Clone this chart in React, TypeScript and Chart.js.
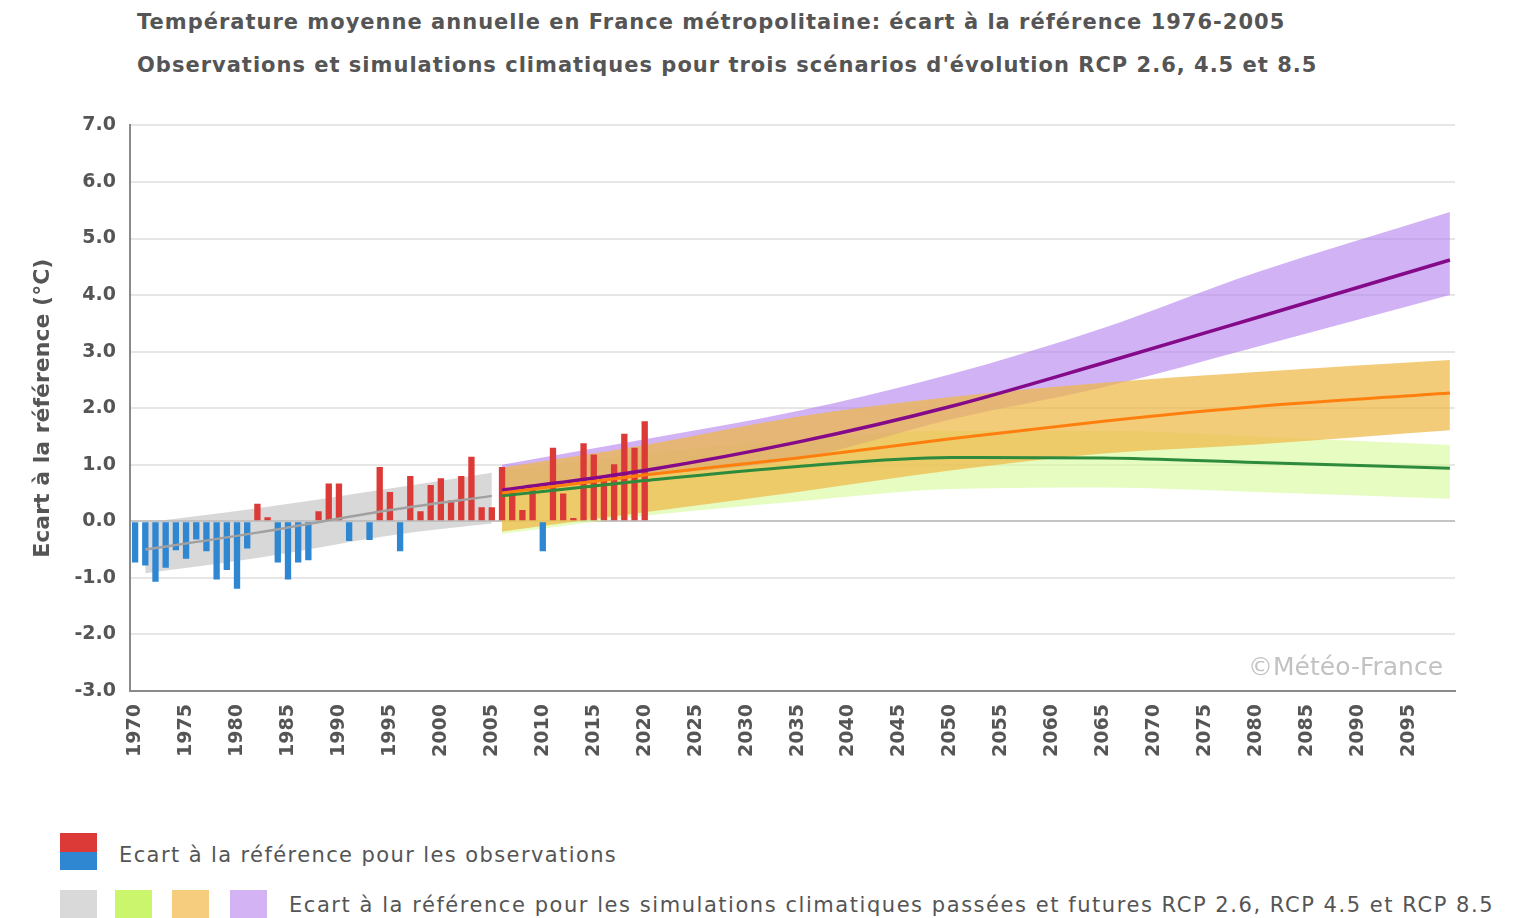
import React, { useEffect, useRef } from "react";
import { Chart, registerables } from "chart.js";

Chart.register(...registerables);

// ---------- data ----------
const FIRST_YEAR = 1970;
const LAST_YEAR = 2099;

// observed anomalies 1970..2020 (°C vs 1976-2005)
const obsValues = [
  -0.73, -0.78, -1.07, -0.82, -0.51, -0.66, -0.32, -0.53, -1.03, -0.86,
  -1.19, -0.48, 0.31, 0.07, -0.73, -1.03, -0.73, -0.69, 0.18, 0.67,
  0.67, -0.35, 0.02, -0.33, 0.96, 0.52, -0.53, 0.80, 0.18, 0.64,
  0.76, 0.37, 0.80, 1.14, 0.25, 0.25, 0.96, 0.55, 0.20, 0.58,
  -0.53, 1.30, 0.49, 0.06, 1.38, 1.18, 0.73, 1.01, 1.55, 1.30,
  1.77,
];

// past simulations (grey)
const histYears = [1971, 1982, 1995, 2005];
const histLow = [-0.92, -0.65, -0.25, -0.04];
const histHigh = [-0.02, 0.23, 0.58, 0.86];
const histMid = [-0.5, -0.2, 0.2, 0.45];

// future scenarios
const scenYears = [2006, 2020, 2035, 2050, 2065, 2080, 2099];
const rcp26Low = [-0.22, 0.1, 0.35, 0.57, 0.6, 0.52, 0.4];
const rcp26High = [0.9, 1.2, 1.45, 1.6, 1.6, 1.5, 1.35];
const rcp26Mid = [0.45, 0.72, 0.97, 1.13, 1.12, 1.04, 0.94];
const rcp45Low = [-0.18, 0.16, 0.52, 0.9, 1.2, 1.36, 1.61];
const rcp45High = [0.95, 1.35, 1.85, 2.2, 2.45, 2.64, 2.85];
const rcp45Mid = [0.5, 0.82, 1.12, 1.46, 1.77, 2.03, 2.27];
const rcp85Low = [0.5, 0.8, 1.1, 1.8, 2.37, 3.08, 4.0];
const rcp85High = [1.0, 1.45, 1.95, 2.6, 3.42, 4.4, 5.47];
const rcp85Mid = [0.55, 0.9, 1.4, 2.03, 2.8, 3.6, 4.62];

const TITLE1 =
  "Température moyenne annuelle en France métropolitaine: écart à la référence 1976-2005";
const TITLE2 =
  "Observations et simulations climatiques pour trois scénarios d'évolution RCP 2.6, 4.5 et 8.5";
const Y_TITLE = "Ecart à la référence (°C)";
const LEGEND1 = "Ecart à la référence pour les observations";
const LEGEND2 =
  "Ecart à la référence pour les simulations climatiques passées et futures RCP 2.6, RCP 4.5 et RCP 8.5";
const WATERMARK = "©Météo-France";

// ---------- colors ----------
const RED = "#dc3a36";
const BLUE = "#2f86d1";
const GREY_BAND = "rgba(190,190,190,0.6)";
const GREEN_BAND = "rgba(214,250,150,0.6)";
const ORANGE_BAND = "rgba(238,185,70,0.72)";
const PURPLE_BAND = "rgba(178,128,238,0.6)";
const GREY_LINE = "#a0a0a0";
const GREEN_LINE = "#2e8b3e";
const ORANGE_LINE = "#ff7f0e";
const PURPLE_LINE = "#850a8a";

const FONT = "'DejaVu Sans', sans-serif";
const TEXT = "#555555";

const labels: string[] = [];
for (let y = FIRST_YEAR; y <= LAST_YEAR; y++) labels.push(String(y));

const pts = (years: number[], vals: number[]) =>
  years.map((yr, i) => ({ x: String(yr), y: vals[i] }));

const bandLow = (years: number[], vals: number[], order: number) => ({
  type: "line" as const,
  data: pts(years, vals),
  borderWidth: 0,
  pointRadius: 0,
  fill: false,
  tension: 0.4,
  cubicInterpolationMode: "monotone" as const,
  order,
});
const bandHigh = (years: number[], vals: number[], color: string, order: number) => ({
  type: "line" as const,
  data: pts(years, vals),
  borderWidth: 0,
  pointRadius: 0,
  backgroundColor: color,
  fill: "-1",
  tension: 0.4,
  cubicInterpolationMode: "monotone" as const,
  order,
});
const midLine = (years: number[], vals: number[], color: string, width: number) => ({
  type: "line" as const,
  data: pts(years, vals),
  borderColor: color,
  borderWidth: width,
  pointRadius: 0,
  fill: false,
  tension: 0.4,
  cubicInterpolationMode: "monotone" as const,
  order: 0,
});

export default function App() {
  const canvasRef = useRef<HTMLCanvasElement | null>(null);

  useEffect(() => {
    if (!canvasRef.current) return;
    const chart = new Chart(canvasRef.current, {
      type: "bar",
      data: {
        labels,
        datasets: [
          bandLow(histYears, histLow, 6),
          bandHigh(histYears, histHigh, GREY_BAND, 6),
          bandLow(scenYears, rcp26Low, 5),
          bandHigh(scenYears, rcp26High, GREEN_BAND, 5),
          bandLow(scenYears, rcp85Low, 4),
          bandHigh(scenYears, rcp85High, PURPLE_BAND, 4),
          bandLow(scenYears, rcp45Low, 3),
          bandHigh(scenYears, rcp45High, ORANGE_BAND, 3),
          {
            type: "bar" as const,
            data: obsValues,
            backgroundColor: obsValues.map((v) => (v >= 0 ? RED : BLUE)),
            barPercentage: 0.62,
            categoryPercentage: 1,
            order: 1,
          },
          midLine(histYears, histMid, GREY_LINE, 2.5),
          midLine(scenYears, rcp26Mid, GREEN_LINE, 3),
          midLine(scenYears, rcp45Mid, ORANGE_LINE, 3),
          midLine(scenYears, rcp85Mid, PURPLE_LINE, 3.5),
        ] as any,
      },
      options: {
        animation: false,
        responsive: false,
        maintainAspectRatio: false,
        layout: { padding: { left: 0, right: 66, top: 25, bottom: 29 } },
        plugins: {
          legend: { display: false },
          tooltip: { enabled: false },
          title: { display: false },
        },
        scales: {
          x: {
            type: "category",
            offset: true,
            grid: { display: false },
            border: { display: true, color: "#8a8a8a", width: 2 },
            ticks: {
              autoSkip: false,
              minRotation: 90,
              maxRotation: 90,
              padding: 5,
              color: TEXT,
              font: { family: FONT, size: 19, weight: "bold" },
              callback: (_v: any, i: number) =>
                (FIRST_YEAR + i) % 5 === 0 ? String(FIRST_YEAR + i) : "",
            },
            afterFit: (s: any) => {
              s.height = 80;
            },
          },
          y: {
            min: -3,
            max: 7,
            grid: {
              drawTicks: false,
              lineWidth: 2,
              color: (ctx: any) =>
                ctx.tick && ctx.tick.value === 0 ? "#c4c4c4" : "#e6e6e6",
            },
            border: { display: true, color: "#8a8a8a", width: 2 },
            ticks: {
              stepSize: 1,
              padding: 14,
              color: TEXT,
              font: { family: FONT, size: 19, weight: "bold" },
              callback: (v: any) => Number(v).toFixed(1),
            },
            title: {
              display: true,
              text: Y_TITLE,
              color: TEXT,
              padding: { top: 30, bottom: 0 },
              font: { family: FONT, size: 22, weight: "bold" },
            },
            afterFit: (s: any) => {
              s.width = 130;
            },
          },
        },
      } as any,
    });
    return () => chart.destroy();
  }, []);

  const sw = (left: number, top: number, color: string, h = 36): React.CSSProperties => ({
    position: "absolute",
    left,
    top,
    width: 37,
    height: h,
    background: color,
  });

  const titleStyle = (top: number): React.CSSProperties => ({
    position: "absolute",
    left: 137,
    top,
    fontSize: 21,
    fontWeight: "bold",
    letterSpacing: "1px",
    lineHeight: "28px",
    whiteSpace: "nowrap",
  });

  return (
    <div
      style={{
        position: "absolute",
        left: 0,
        top: 0,
        width: 1521,
        height: 918,
        overflow: "hidden",
        background: "#fff",
        fontFamily: FONT,
        color: TEXT,
      }}
    >
      <div style={titleStyle(8)}>{TITLE1}</div>
      <div style={titleStyle(51)}>{TITLE2}</div>
      <div style={{ position: "absolute", left: 0, top: 100, width: 1521, height: 700 }}>
        <canvas ref={canvasRef} width={1521} height={700} style={{ display: "block" }} />
      </div>
      <div
        style={{
          position: "absolute",
          left: 1248,
          top: 651,
          fontSize: 25,
          color: "#c2c2c2",
          lineHeight: "32px",
          whiteSpace: "nowrap",
        }}
      >
        {WATERMARK}
      </div>
      {/* legend */}
      <div style={sw(60, 833, RED, 19)} />
      <div style={sw(60, 852, BLUE, 18)} />
      <div
        style={{
          position: "absolute",
          left: 119,
          top: 840,
          fontSize: 21,
          letterSpacing: "1.4px",
          lineHeight: "30px",
          whiteSpace: "nowrap",
        }}
      >
        {LEGEND1}
      </div>
      <div style={sw(60, 890, "#d9d9d9", 40)} />
      <div style={sw(115, 890, "#ccf56e", 40)} />
      <div style={sw(172, 890, "#f6cd7e", 40)} />
      <div style={sw(230, 890, "#d4b3f5", 40)} />
      <div
        style={{
          position: "absolute",
          left: 289,
          top: 890,
          fontSize: 21,
          letterSpacing: "1.55px",
          lineHeight: "30px",
          whiteSpace: "nowrap",
        }}
      >
        {LEGEND2}
      </div>
    </div>
  );
}
